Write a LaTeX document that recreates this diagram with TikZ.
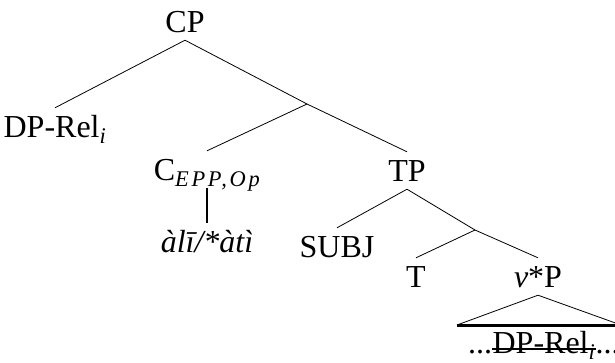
\documentclass[tikz,border=0pt]{standalone}
\usepackage{fontspec}
\setmainfont{Liberation Serif}
\usetikzlibrary{positioning}

\begin{document}
\begin{tikzpicture}[x=1pt,y=-1pt,
  lbl/.style={anchor=base, inner xsep=0pt, inner ysep=8pt, text height=21pt, text depth=0pt, font=\fontsize{32}{38}\selectfont},
  branch/.style={line width=0.8pt},
  strike/.style={line width=2.5pt}
  ]
 \useasboundingbox (0,0) rectangle (615,362);
 % tree labels
 \node[lbl] (CP) at (185,32) {CP};
 \node[lbl] (DP) at (55,137) {DP-Rel\textsubscript{\textit{i}}};
 \node[lbl] (C) at (207,180) {C\textsubscript{\addfontfeature{LetterSpace=12}\itshape EPP,Op}};
 \node[lbl] (ali) at (207,252) {\textit{àlī/*àtì}};
 \node[lbl] (TP) at (407,181) {TP};
 \node[lbl] (SUBJ) at (337,257) {SUBJ};
 \node[lbl] (T) at (416,287) {T};
 \node[lbl] (vP) at (538,287) {\textit{v}*P};
 \coordinate (Cbar) at (307,104);
 \coordinate (vbar) at (475,230);
 \path[branch]
  (CP.south) edge (DP.north)
  (CP.south) edge (Cbar)
  (Cbar) edge (C.north)
  (Cbar) edge (TP.north)
  (TP.south) edge (SUBJ.north)
  (TP.south) edge (vbar)
  (vbar) edge (T.north)
  (vbar) edge (vP.north);
 \draw[line width=1.5pt] (C.south) -- (ali.north);
 % triangle over the trace
 \coordinate (triL) at (457,325);
 \coordinate (triR) at (621,325);
 \draw[branch] (triL) -- (vP.south) -- (triR);
 \draw[line width=3pt] (triL) -- (triR);
 \node[lbl, anchor=base west, inner ysep=0pt] (gapL) at (468,353) {...};
 \node[lbl, anchor=base west, inner ysep=0pt] (trace) at (gapL.base east) {DP-Rel\textsubscript{\textit{i}}};
 \node[lbl, anchor=base west, inner ysep=0pt] (gapR) at (trace.base east) {...};
 \draw[strike] ([yshift=4pt]trace.base west) -- ([yshift=4pt]trace.base east);
\end{tikzpicture}
\end{document}
